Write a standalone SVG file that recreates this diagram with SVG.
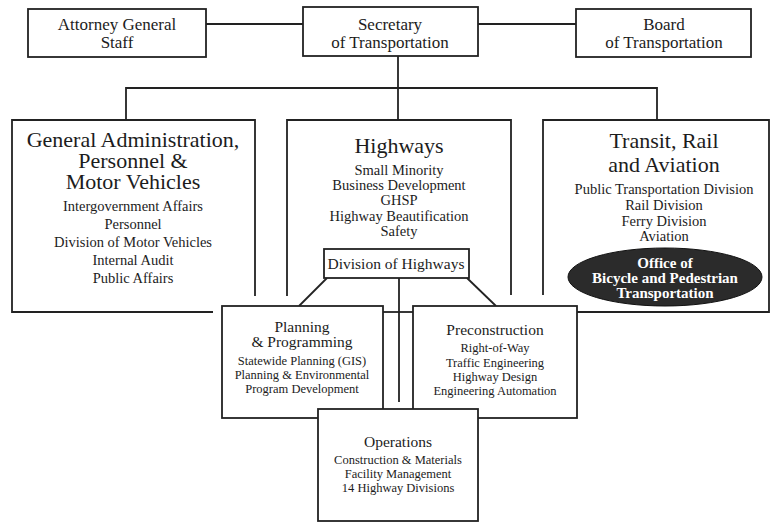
<svg xmlns="http://www.w3.org/2000/svg" width="771" height="522" viewBox="0 0 771 522">
<style>
  .box { fill: #fff; stroke: #222; stroke-width: 1.8; }
  .ln { fill: none; stroke: #222; stroke-width: 1.8; }
  text { font-family: "Liberation Serif", "Times New Roman", serif; fill: #1c1c1c; text-anchor: middle; }
  .top { font-size: 17px; }
  .ttl { font-size: 22px; }
  .itm { font-size: 14.5px; }
  .sttl { font-size: 15.5px; }
  .sitm { font-size: 12.5px; }
  .ell { fill: #2b2b2b; stroke: #111; stroke-width: 1; }
  .etx { font-size: 15px; font-weight: bold; fill: #fff; }
</style>
<rect width="771" height="522" fill="#fff"/>

<g id="connectors">
  <line class="ln" x1="206" y1="24" x2="303" y2="24"/>
  <line class="ln" x1="478" y1="24" x2="576" y2="24"/>
  <line class="ln" x1="398" y1="56" x2="398" y2="120"/>
  <polyline class="ln" points="126,120 126,88 657,88 657,120"/>
  <line class="ln" x1="327" y1="278" x2="299" y2="306"/>
  <line class="ln" x1="467" y1="278" x2="496" y2="306"/>
  <line class="ln" x1="399" y1="278" x2="399" y2="402"/>
</g>

<g id="attorney">
  <rect class="box" x="28" y="9" width="178" height="48"/>
  <text class="top" x="117" y="30">Attorney General</text>
  <text class="top" x="117" y="48">Staff</text>
</g>
<g id="secretary">
  <rect class="box" x="303" y="7" width="175" height="49"/>
  <text class="top" x="390" y="30">Secretary</text>
  <text class="top" x="390" y="48">of Transportation</text>
</g>
<g id="board">
  <rect class="box" x="576" y="9" width="175" height="48"/>
  <text class="top" x="664" y="30">Board</text>
  <text class="top" x="664" y="48">of Transportation</text>
</g>

<g id="general-admin">
  <path class="ln" d="M213 312 H12 V120 H255 V296"/>
  <text class="ttl" x="133" y="147">General Administration,</text>
  <text class="ttl" x="133" y="168">Personnel &amp;</text>
  <text class="ttl" x="133" y="189">Motor Vehicles</text>
  <text class="itm" x="133" y="211">Intergovernment Affairs</text>
  <text class="itm" x="133" y="229">Personnel</text>
  <text class="itm" x="133" y="247">Division of Motor Vehicles</text>
  <text class="itm" x="133" y="265">Internal Audit</text>
  <text class="itm" x="133" y="283">Public Affairs</text>
</g>

<g id="highways">
  <path class="ln" d="M287 296 V120 H511 V295"/>
  <line class="ln" x1="383" y1="312" x2="413" y2="312"/>
  <text class="ttl" x="399" y="153">Highways</text>
  <text class="itm" x="399" y="175">Small Minority</text>
  <text class="itm" x="399" y="190">Business Development</text>
  <text class="itm" x="399" y="205">GHSP</text>
  <text class="itm" x="399" y="221">Highway Beautification</text>
  <text class="itm" x="399" y="236">Safety</text>
</g>

<g id="division-of-highways">
  <rect class="box" x="324" y="249" width="145" height="29"/>
  <text x="396" y="269" style="font-size:15.5px">Division of Highways</text>
</g>

<g id="transit">
  <path class="ln" d="M543 295 V120 H769 V312 H577"/>
  <text class="ttl" x="664" y="148">Transit, Rail</text>
  <text class="ttl" x="664" y="172">and Aviation</text>
  <text class="itm" x="664" y="194">Public Transportation Division</text>
  <text class="itm" x="664" y="210">Rail Division</text>
  <text class="itm" x="664" y="226">Ferry Division</text>
  <text class="itm" x="664" y="241">Aviation</text>
</g>

<g id="bike-ped">
  <ellipse class="ell" cx="665" cy="277" rx="97" ry="29"/>
  <text class="etx" x="665" y="268">Office of</text>
  <text class="etx" x="665" y="283">Bicycle and Pedestrian</text>
  <text class="etx" x="665" y="298">Transportation</text>
</g>

<g id="planning">
  <rect class="box" x="222" y="306" width="161" height="112"/>
  <text class="sttl" x="302" y="332">Planning</text>
  <text class="sttl" x="302" y="347">&amp; Programming</text>
  <text class="sitm" x="302" y="365">Statewide Planning (GIS)</text>
  <text class="sitm" x="302" y="379">Planning &amp; Environmental</text>
  <text class="sitm" x="302" y="393">Program Development</text>
</g>

<g id="preconstruction">
  <rect class="box" x="413" y="306" width="164" height="112"/>
  <text class="sttl" x="495" y="335">Preconstruction</text>
  <text class="sitm" x="495" y="352">Right-of-Way</text>
  <text class="sitm" x="495" y="367">Traffic Engineering</text>
  <text class="sitm" x="495" y="381">Highway Design</text>
  <text class="sitm" x="495" y="395">Engineering Automation</text>
</g>

<g id="operations">
  <rect class="box" x="318" y="409" width="160" height="112"/>
  <text class="sttl" x="398" y="447">Operations</text>
  <text class="sitm" x="398" y="464">Construction &amp; Materials</text>
  <text class="sitm" x="398" y="478">Facility Management</text>
  <text class="sitm" x="398" y="492">14 Highway Divisions</text>
</g>
</svg>
